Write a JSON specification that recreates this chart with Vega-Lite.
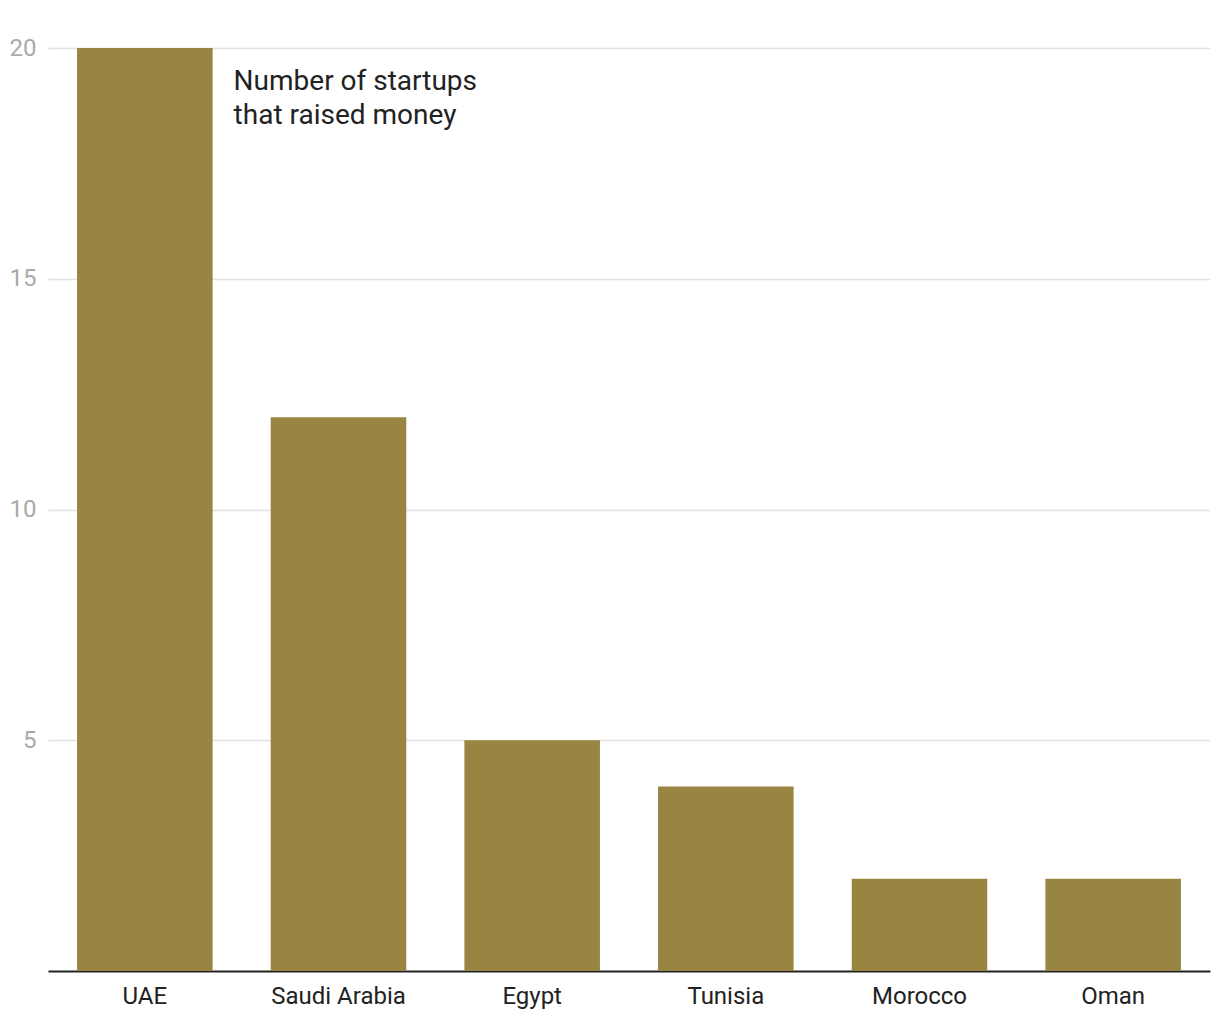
{
  "$schema": "https://vega.github.io/schema/vega-lite/v6.json",
  "width": 1162,
  "height": 923,
  "autosize": {"type": "none"},
  "padding": {"left": 48, "top": 48, "right": 10, "bottom": 49},
  "background": "white",
  "config": {"view": {"stroke": null}, "font": "Roboto"},
  "data": {"values": [
    {"country": "UAE", "count": 20},
    {"country": "Saudi Arabia", "count": 12},
    {"country": "Egypt", "count": 5},
    {"country": "Tunisia", "count": 4},
    {"country": "Morocco", "count": 2},
    {"country": "Oman", "count": 2}
  ]},
  "layer": [
    {
      "mark": {"type": "bar", "color": "#998542"},
      "encoding": {
        "x": {"field": "country", "type": "nominal", "sort": ["UAE", "Saudi Arabia", "Egypt", "Tunisia", "Morocco", "Oman"],
          "scale": {"paddingInner": 0.3, "paddingOuter": 0.15},
          "axis": {"title": null, "labelAngle": 0, "labelFont": "Roboto", "labelFontSize": 24, "labelColor": "#222222", "labelPadding": 13, "ticks": false, "domainColor": "#222222", "domainWidth": 2}},
        "y": {"field": "count", "type": "quantitative",
          "scale": {"domain": [0, 20], "nice": false},
          "axis": {"title": null, "values": [5, 10, 15, 20], "labelFont": "Roboto", "labelFontSize": 24, "labelColor": "#aaaaaa", "labelPadding": 12, "ticks": false, "domain": false, "gridColor": "#e2e2e2", "gridWidth": 1.5}}
      }
    },
    {
      "data": {"values": [{"country": "UAE", "count": 20, "label": ["Number of startups", "that raised money"]}]},
      "mark": {"type": "text", "align": "left", "baseline": "top", "dx": 21, "dy": 20, "fontSize": 28, "lineHeight": 34, "font": "Roboto", "color": "#222222"},
      "encoding": {
        "x": {"field": "country", "type": "nominal", "bandPosition": 1, "sort": ["UAE", "Saudi Arabia", "Egypt", "Tunisia", "Morocco", "Oman"]},
        "y": {"field": "count", "type": "quantitative"},
        "text": {"field": "label"}
      }
    }
  ]
}
